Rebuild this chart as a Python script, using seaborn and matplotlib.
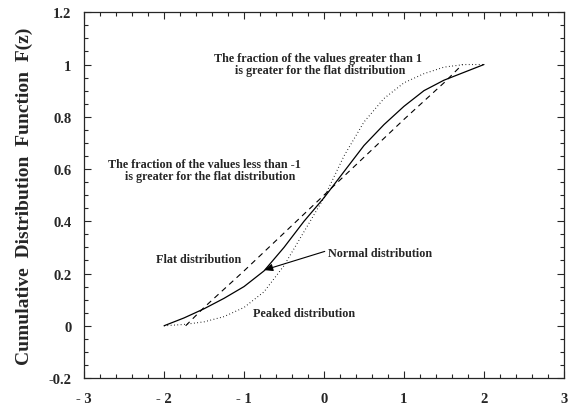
import numpy as np
import pandas as pd
import matplotlib
matplotlib.use('Agg')
import matplotlib.pyplot as plt
import seaborn as sns
from matplotlib.ticker import MultipleLocator

# Curve values
z_normal = [-2.0, -1.75, -1.5, -1.25, -1.0, -0.75, -0.5, -0.25, 0.0, 0.25, 0.5, 0.75, 1.0, 1.25, 1.5, 1.75, 2.0]
f_normal = [0.0, 0.03, 0.065, 0.105, 0.15, 0.21, 0.30, 0.40, 0.49, 0.59, 0.69, 0.77, 0.84, 0.90, 0.94, 0.97, 1.0]

z_flat = [-1.73, -1.5, -1.0, -0.5, 0.0, 0.5, 1.0, 1.5, 1.73]
f_flat = [0.0, 0.07, 0.21, 0.355, 0.5, 0.645, 0.79, 0.93, 1.0]

z_peaked = [-2.0, -1.75, -1.5, -1.25, -1.0, -0.75, -0.5, -0.25, 0.0, 0.25, 0.5, 0.75, 1.0, 1.25, 1.5, 1.75, 2.0]
f_peaked = [0.0, 0.005, 0.015, 0.035, 0.07, 0.13, 0.23, 0.36, 0.49, 0.65, 0.78, 0.87, 0.93, 0.965, 0.99, 1.0, 1.0]

x_ticks = [-3, -2, -1, 0, 1, 2, 3]
x_labels = ['- 3', '- 2', '- 1', '0', '1', '2', '3']
y_ticks = [-0.2, 0, 0.2, 0.4, 0.6, 0.8, 1.0, 1.2]
y_labels = ['-0.2', '0', '0.2', '0.4', '0.6', '0.8', '1', '1.2']

sns.set_style('ticks')
plt.rcParams['font.family'] = ['Liberation Serif', 'DejaVu Serif']
plt.rcParams['font.weight'] = 'bold'

fig = plt.figure(figsize=(5.76, 4.10), dpi=100)
ax = fig.add_axes([0.146, 0.0756, 0.833, 0.892])

normal = pd.DataFrame({'z': z_normal, 'F': f_normal})
flat = pd.DataFrame({'z': z_flat, 'F': f_flat})
peaked = pd.DataFrame({'z': z_peaked, 'F': f_peaked})

sns.lineplot(data=normal, x='z', y='F', ax=ax, color='black', lw=0.9, sort=False)
sns.lineplot(data=flat, x='z', y='F', ax=ax, color='black', lw=0.8, sort=False,
             linestyle=(0, (5, 4)))
sns.lineplot(data=peaked, x='z', y='F', ax=ax, color='black', lw=0.8, sort=False,
             linestyle=(0, (0.7, 2.3)))

ax.set_xlim(-3, 3)
ax.set_ylim(-0.2, 1.2)
ax.set_xticks(x_ticks)
ax.set_xticklabels(x_labels)
ax.set_yticks(y_ticks)
ax.set_yticklabels(y_labels)
ax.xaxis.set_minor_locator(MultipleLocator(0.2))
ax.yaxis.set_minor_locator(MultipleLocator(0.05))
ax.tick_params(which='both', direction='in', top=True, right=True, width=0.8, labelsize=10.5)
ax.tick_params(which='major', length=5)
ax.tick_params(which='minor', length=3)
ax.tick_params(axis='x', pad=10)
ax.tick_params(axis='y', pad=9)
for s in ax.spines.values():
    s.set_linewidth(0.9)

ax.set_xlabel('')
ax.set_ylabel('Cumulative  Distribution  Function  F(z)', fontsize=14, fontweight='bold', labelpad=11)

fs = 8.7
ax.text(-1.37, 1.024, 'The fraction of the values greater than 1', fontsize=fs, va='center', ha='left')
ax.text(-1.11, 0.98, 'is greater for the flat distribution', fontsize=fs, va='center', ha='left')
ax.text(-2.70, 0.62, 'The fraction of the values less than -1', fontsize=fs, va='center', ha='left')
ax.text(-2.49, 0.575, 'is greater for the flat distribution', fontsize=fs, va='center', ha='left')
ax.text(-2.10, 0.255, 'Flat distribution', fontsize=fs, va='center', ha='left')
ax.text(-0.89, 0.049, 'Peaked distribution', fontsize=fs, va='center', ha='left')
ax.annotate('Normal distribution', xy=(-0.75, 0.213), xytext=(0.05, 0.277),
            fontsize=fs, va='center', ha='left',
            arrowprops=dict(arrowstyle='-|>,head_length=0.6,head_width=0.25',
                            color='black', lw=0.8, shrinkA=0, shrinkB=0,
                            relpos=(0, 0.75)))

fig.savefig('out.png', dpi=100)
